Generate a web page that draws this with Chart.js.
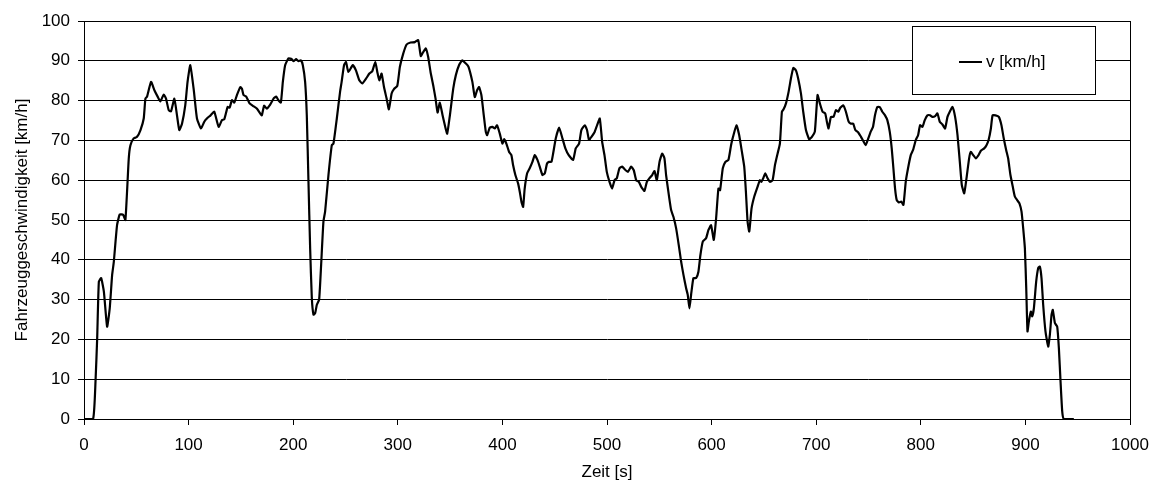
<!DOCTYPE html>
<html>
<head>
<meta charset="utf-8">
<title>Fahrzeuggeschwindigkeit</title>
<script src="https://cdn.jsdelivr.net/npm/chart.js@4/dist/chart.umd.min.js"></script>
<style>
	html, body { margin: 0; padding: 0; background: #fff; }
	#chartSpeed { display: block; }
</style>
</head>
<body>
<canvas id="chartSpeed" width="1154" height="488"></canvas>
<script>
// Zeit [s]
var zeit = [
	0, 8.7, 11, 12.6, 14.2, 16.4, 19, 22.1, 24.6, 26.9, 28.5, 31.6, 34.2, 37.4, 39.6, 42.8, 44.4, 47.5, 50.7, 54,
	57.1, 58.7, 60.3, 64.1, 67.3, 70.4, 73, 76.2, 78.4, 81, 83.2, 86.4, 88.9, 91.1, 93.7, 96.8, 99, 101.6, 104.8, 108,
	111.8, 115, 117.5, 121, 124.5, 128.7, 131.9, 134.1, 137.3, 139.2, 141.4, 143.7, 146.2, 149.4, 151, 152.5, 155.1, 158.3, 161.4, 165.2,
	168.4, 170, 172.2, 174.8, 178, 181.2, 183.7, 185.9, 188.2, 190.1, 192.3, 195.5, 198.7, 200.3, 202.8, 205, 207.3, 209.2, 211.4, 213,
	214.6, 216.2, 217.8, 219.4, 221, 222.6, 224.8, 226.7, 228.9, 230.5, 233.7, 236.9, 238.5, 241.7, 244.8, 246.3, 248.6, 250.5, 252.7, 257,
	260, 263.2, 266, 269.6, 272.8, 275.6, 278.5, 280.4, 282.3, 284.5, 286.8, 289.3, 291.5, 294.1, 296.3, 299.5, 302, 305.2, 308.4, 312.2,
	316.3, 319.5, 322, 324.3, 326.8, 329, 331.3, 333.8, 336.1, 338, 340.2, 342.8, 345, 347.2, 349.8, 353, 355.5, 358.7, 361.6, 365.1,
	367.6, 371.3, 373.6, 375.8, 377.7, 379.9, 382.2, 384.1, 385.4, 387.9, 390.5, 392.7, 394.9, 397.5, 400, 401.6, 403.8, 406.4, 408.6, 410.2,
	412.4, 415, 416.6, 418.2, 419.8, 421.3, 423.6, 426.1, 428.7, 430.9, 433.5, 435.7, 438.3, 440.5, 442.7, 444.6, 446.9, 448.5, 451, 454.2,
	457.4, 460.2, 463.4, 467.6, 470.1, 473.3, 475.5, 478.7, 480.9, 482.8, 485.1, 488.3, 490.5, 493.1, 495.4, 497.6, 499.8, 502.4, 504.9, 507.2,
	509.4, 511.9, 514.5, 516.7, 519.9, 523.1, 525.6, 527.9, 530.4, 532.6, 535.8, 538.1, 540.6, 543.2, 545.4, 547.6, 550.2, 552.7, 554.9, 556.5,
	559.1, 561.3, 563.5, 566.1, 568.6, 570.9, 573.1, 575.6, 577.2, 578.8, 580.4, 582.6, 585.2, 587.4, 589.3, 591.6, 594.7, 597, 599.5, 602.1,
	604.3, 606.5, 608.1, 610.7, 613.2, 616.1, 618.6, 620.1, 623.8, 626.4, 629, 631.2, 632.8, 634.4, 636, 638.2, 640.8, 644, 646.2, 647.5,
	649.4, 651.3, 653.5, 655.8, 658.3, 660.6, 663.1, 665.3, 667.2, 668.8, 671.1, 673.6, 675.8, 678.1, 680.6, 682.8, 685.4, 687.6, 690.2, 693.3,
	695.9, 698.7, 701.3, 703.5, 706.1, 708.6, 710.2, 711.8, 714.1, 716.6, 718.8, 721.1, 723, 725.9, 728.4, 731, 733.2, 735.4, 737.4, 740.2,
	742.8, 744.1, 747.3, 749.8, 752.1, 754.3, 756.2, 758.4, 760.7, 763.2, 765.8, 768, 770.3, 772.2, 773.8, 775.4, 777, 779.2, 781.4, 783.4,
	785.6, 787.8, 790.4, 792.6, 795.2, 797.4, 799.3, 801.6, 803.8, 806.3, 808.9, 811.1, 813.7, 815.9, 818.1, 820.7, 823.2, 825.5, 827.7, 830.3,
	832.8, 835.1, 837.3, 839.2, 841.5, 843.7, 846.2, 847.8, 850.1, 852.6, 855.2, 857.4, 860.6, 862.8, 864.8, 867, 868.6, 871.4, 874.6, 877.1,
	879.3, 881.6, 883.5, 885.7, 887.9, 889.9, 892.1, 894.3, 896.3, 897.9, 899.5, 900.8, 902, 903.3, 905.2, 906.5, 908.1, 910.3, 912.2, 913.8,
	915.4, 917, 919.2, 921.8, 923.4, 925, 926.2, 928.2, 930.4, 932, 933.6, 935.2, 936.7, 946.3
];

// v [km/h]
var geschwindigkeit = [
	0, 0, 9.4, 20.3, 34.5, 35.4, 32, 23.2, 27.8, 36.2, 39.5, 48.7, 51.4, 51.3, 50, 65.5, 68.8, 70.5, 70.9, 72.6,
	75.5, 80.5, 81, 84.7, 82.6, 81, 79.8, 81.5, 80.5, 77.6, 77.3, 80.5, 76.3, 72.6, 74.2, 78.8, 84.7, 88.9, 83, 75.5,
	73, 74.7, 75.5, 76.3, 77.2, 73.4, 75.1, 75.3, 78.4, 78.2, 80.1, 79.5, 81.4, 83.4, 83, 81.4, 81, 79.3, 78.7, 78,
	76.8, 76.3, 78.7, 78, 79, 80.5, 81, 80.1, 79.5, 84.7, 88.9, 90.6, 90.4, 89.9, 90.4, 89.9, 90.1, 88.9, 84.7, 76.3,
	59.6, 42.9, 30.4, 26.2, 26.6, 28.7, 30, 38.7, 49.6, 52.1, 61.3, 68.8, 69.2, 75.5, 82.2, 84.7, 88.9, 89.7, 87.2, 88.9,
	87.6, 85.1, 84.3, 85.5, 86.8, 87.4, 89.7, 87.2, 85.1, 86.8, 83.4, 80.5, 77.8, 81.8, 82.9, 83.7, 88.5, 91.8, 94.1, 94.6,
	94.7, 95.2, 91.2, 92.2, 93.1, 91, 87.2, 83.9, 80.5, 77, 79.5, 76.3, 73.8, 71.7, 76.3, 83, 86.4, 89, 90.1, 89.3,
	88.5, 84.7, 80.9, 82.6, 83.4, 81.4, 76.3, 72.2, 71.3, 73.2, 73.4, 73, 73.8, 71.7, 69.2, 70.3, 69.2, 67.1, 66.3, 63.8,
	61.3, 59.2, 57.1, 54.6, 53.3, 57.9, 61.7, 63, 64.6, 66.3, 65.1, 63.4, 61.3, 61.7, 64.2, 64.6, 64.6, 66.7, 70.5, 73.2,
	70.5, 68, 66.3, 65.1, 68, 69.2, 72.6, 73.8, 72.6, 70.1, 70.9, 72.2, 73.8, 75.5, 69.6, 66.3, 62.1, 59.6, 57.9, 60,
	60.5, 63, 63.4, 62.8, 62.1, 63.4, 62.5, 60, 59.6, 58.4, 57.3, 59.6, 60.5, 61.3, 62.3, 60, 64.6, 66.7, 65.5, 61.3,
	56.3, 52.5, 50.8, 47.9, 43.7, 39.5, 36.2, 32.9, 31.2, 27.8, 31.2, 35.4, 35.4, 37, 41.2, 44.6, 45.4, 47.5, 48.7, 45,
	50.4, 57.9, 57.5, 63, 64.6, 65.1, 68.8, 70.5, 73.8, 71.3, 67.1, 63.4, 57.1, 49.6, 47.1, 52.9, 55.9, 58.4, 60, 59.6,
	60.5, 61.7, 60.5, 59.6, 60, 63.8, 66.7, 69.2, 77.2, 77.8, 79.3, 82.2, 85.5, 88.2, 87.6, 85.5, 81.8, 77.2, 72.6, 70.3,
	70.9, 72.2, 81.4, 79.3, 77.2, 76.8, 74.7, 73, 75.9, 75.9, 77.6, 77.2, 78.2, 78.8, 77.2, 74.7, 74.2, 74.2, 72.6, 72,
	70.9, 70.3, 68.8, 70.5, 72.2, 73.4, 76.3, 78.4, 78.4, 77.2, 76.3, 75.1, 72.2, 68, 63, 57.9, 55, 54.4, 54.6, 53.8,
	59.6, 63, 66.3, 67.6, 70.1, 71.3, 73.8, 73.4, 75.1, 76.3, 76.3, 75.9, 76.1, 76.8, 74.7, 74, 73, 75.9, 77.2, 78.4,
	75.9, 71.3, 64.6, 58.8, 56.7, 60.5, 65.5, 67.1, 66.3, 65.5, 66.3, 67.4, 68, 68.8, 70.1, 73, 76.3, 76.3, 75.9, 73.8,
	70.5, 67.6, 65.5, 61.3, 58.4, 55.9, 55, 54.2, 52.1, 47.9, 42.9, 32.9, 22, 24.5, 27, 25.8, 27.8, 34.5, 37.9, 38.3,
	35.4, 28.7, 22, 18.2, 21.2, 26.2, 27.4, 24.1, 23.2, 17.8, 9.4, 1.9, 0, 0
];

var xTicks = [0, 100, 200, 300, 400, 500, 600, 700, 800, 900, 1000];
var yTicks = [0, 10, 20, 30, 40, 50, 60, 70, 80, 90, 100];

var seriesLabel = "v [km/h]";
var xTitle = "Zeit [s]";
var yTitle = "Fahrzeuggeschwindigkeit [km/h]";

var chartFont = "'Liberation Sans', Arial, sans-serif";
Chart.defaults.font.family = chartFont;
Chart.defaults.font.size = 17;
Chart.defaults.color = "#000";

// frame round the plot area plus the Excel-like legend box
var frameAndLegend = {
	id: "frameAndLegend",
	afterDatasetsDraw: function(chart) {
		var ctx = chart.ctx;
		var a = chart.chartArea;
		ctx.save();
		ctx.strokeStyle = "#000";
		ctx.lineWidth = 1;
		ctx.strokeRect(Math.round(a.left) + 0.5, Math.round(a.top) + 0.5, Math.round(a.right - a.left), Math.round(a.bottom - a.top));

		// legend box
		var bx = 912, by = 26, bw = 183, bh = 68;
		ctx.fillStyle = "#fff";
		ctx.fillRect(bx, by, bw, bh);
		ctx.strokeRect(bx + 0.5, by + 0.5, bw, bh);
		ctx.beginPath();
		ctx.lineWidth = 2;
		ctx.moveTo(959, 62);
		ctx.lineTo(982, 62);
		ctx.stroke();
		ctx.fillStyle = "#000";
		ctx.font = "17px " + chartFont;
		ctx.textBaseline = "middle";
		ctx.textAlign = "left";
		ctx.fillText(chart.data.datasets[0].label, 986, 62);
		ctx.restore();
	}
};

// plain numbers, no thousands separator
function plainLabel(value) {
	return String(value);
}

function Init() {
	var points = zeit.map(function(t, i) { return { x: t, y: geschwindigkeit[i] }; });

	new Chart(document.getElementById("chartSpeed").getContext("2d"), {
		type: "line",
		data: {
			datasets: [{
				label: seriesLabel,
				data: points,
				borderColor: "#000",
				borderWidth: 2.2,
				pointRadius: 0,
				tension: 0.15,
				fill: false
			}]
		},
		plugins: [frameAndLegend],
		options: {
			responsive: false,
			animation: false,
			layout: { padding: { top: 21, right: 24, left: 0, bottom: 0 } },
			plugins: {
				legend: { display: false },
				tooltip: { enabled: false }
			},
			scales: {
				x: {
					type: "linear",
					min: 0,
					max: 1000,
					afterFit: function(scale) {
						scale.height = 69;
						scale.paddingLeft = 0;
						scale.paddingRight = 0;
					},
					afterBuildTicks: function(scale) { scale.ticks = xTicks.map(function(v) { return { value: v }; }); },
					grid: { drawOnChartArea: false, drawTicks: true, tickLength: 6, color: "#000" },
					border: { color: "#000", width: 1 },
					ticks: { padding: 10, maxRotation: 0, autoSkip: false, callback: plainLabel },
					title: { display: true, text: xTitle, padding: { top: 0, bottom: 5 } }
				},
				y: {
					min: 0,
					max: 100,
					afterFit: function(scale) {
						scale.width = 84;
						scale.paddingTop = 0;
						scale.paddingBottom = 0;
					},
					afterBuildTicks: function(scale) { scale.ticks = yTicks.map(function(v) { return { value: v }; }); },
					grid: { color: "#000", tickLength: 6 },
					border: { color: "#000", width: 1 },
					ticks: { padding: 8, autoSkip: false, callback: plainLabel },
					title: { display: true, text: yTitle, padding: { top: 12, bottom: 0 } }
				}
			}
		}
	});
}

Init();
</script>
</body>
</html>
